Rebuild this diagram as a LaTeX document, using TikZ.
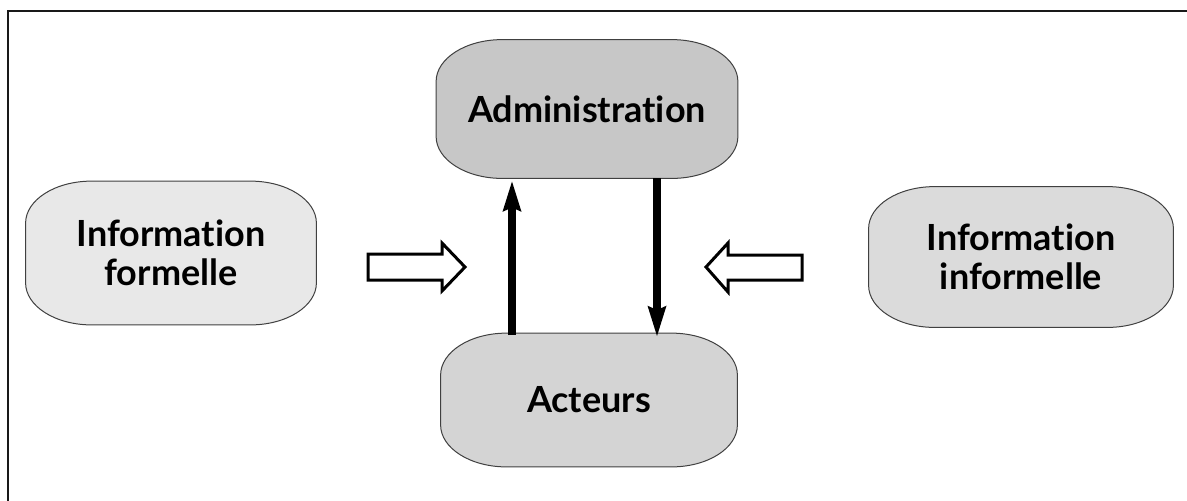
\documentclass[tikz,border=0pt]{standalone}
\usepackage{fontspec}
\setmainfont[Ligatures=NoCommon]{Lato}
\usepackage{tikz}
\usetikzlibrary{arrows.meta,backgrounds}

\tikzset{
	box/.style={align=center, inner sep=0pt, font=\fontsize{18}{19.5}\selectfont\bfseries},
	pill/.style={draw=black!75, line width=0.5pt},
	flow/.style={-{Stealth[length=15pt,width=8.5pt,inset=1.5pt]}, line width=4pt},
	blockarrow/.style={draw=black, fill=white, line width=1.5pt, line join=miter}
}

\begin{document}
\begin{tikzpicture}[x=0.5pt,y=-0.5pt]
	
	\useasboundingbox (0,0) rectangle (1187,500);
	\begin{scope}
		\clip (0,0) rectangle (1187,500);
		\draw[line width=1pt, draw=black!90] (8,11) rectangle (1220,530);
	\end{scope}
	
	\node[box, minimum width=150.5pt, minimum height=69pt] (admin) at (587, 109) {Administration};
	\node[box, minimum width=148pt, minimum height=66.5pt] (acteurs) at (589, 400) {Acteurs};
	\node[box, minimum width=145pt, minimum height=71.5pt] (formelle) at (171, 253) {Information\\formelle};
	\node[box, minimum width=152pt, minimum height=70pt] (informelle) at (1021, 257) {Information\\informelle};
	
	% contours arrondis
	\begin{scope}[on background layer]
		\foreach \n/\c in {admin/22, acteurs/17, formelle/9, informelle/14}
		\draw[pill, fill=black!\c] ([xshift=33pt]\n.north west) -- ([xshift=-33pt]\n.north east)
			arc[start angle=90, end angle=0, x radius=33pt, y radius=21pt]
			-- ([yshift=21pt]\n.south east)
			arc[start angle=0, end angle=-90, x radius=33pt, y radius=21pt]
			-- ([xshift=33pt]\n.south west)
			arc[start angle=270, end angle=180, x radius=33pt, y radius=21pt]
			-- ([yshift=-21pt]\n.north west)
			arc[start angle=180, end angle=90, x radius=33pt, y radius=21pt] -- cycle;
	\end{scope}
	
	\draw[flow] ([xshift=-38.5pt, yshift=-1pt]acteurs.north) -- ([xshift=-37.5pt, yshift=-1pt]admin.south);
	\draw[flow] ([xshift=35pt]admin.south) -- ([xshift=34pt, yshift=-2pt]acteurs.north);
	
	% grosses fleches
	\draw[blockarrow] (368,254) -- (442,254) -- (442,243) -- (465,267) -- (442,291) -- (442,280) -- (368,280) -- cycle;
	\draw[blockarrow] (802,255) -- (728,255) -- (728,243) -- (706,267) -- (728,292) -- (728,280) -- (802,280) -- cycle;
	
\end{tikzpicture}
\end{document}
